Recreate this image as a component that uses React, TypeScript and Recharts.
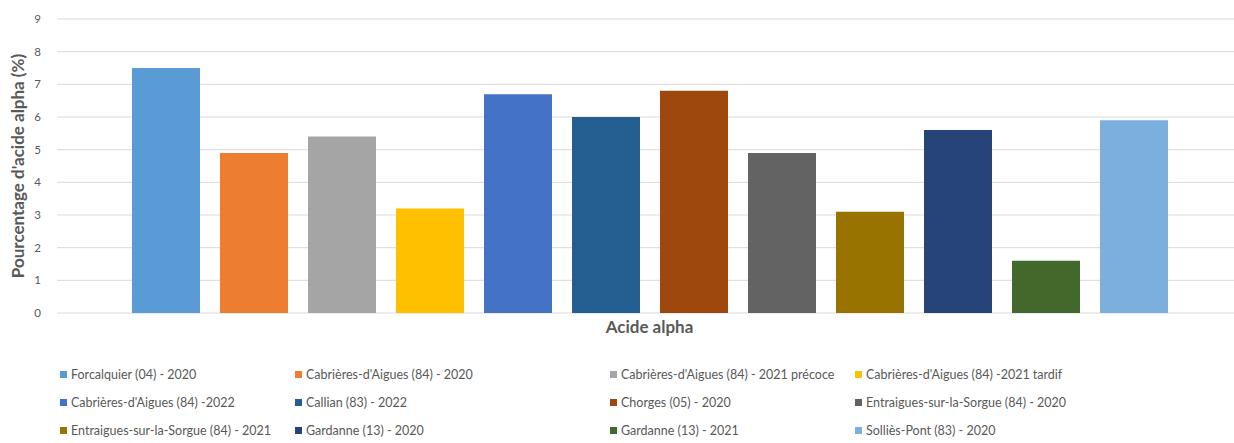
import React from 'react'
import { BarChart, Bar, XAxis, YAxis, CartesianGrid } from 'recharts'

const category = 'Acide alpha'
const seriesNames = [
  'Forcalquier (04) - 2020',
  "Cabrières-d'Aigues (84) - 2020",
  "Cabrières-d'Aigues (84) - 2021 précoce",
  "Cabrières-d'Aigues (84) -2021 tardif",
  "Cabrières-d'Aigues (84) -2022",
  'Callian (83) - 2022',
  'Chorges (05) - 2020',
  'Entraigues-sur-la-Sorgue (84) - 2020',
  'Entraigues-sur-la-Sorgue (84) - 2021',
  'Gardanne (13) - 2020',
  'Gardanne (13) - 2021',
  'Solliès-Pont (83) - 2020',
]
const values = [7.5, 4.9, 5.4, 3.2, 6.7, 6.0, 6.8, 4.9, 3.1, 5.6, 1.6, 5.9]
const colors = [
  '#5b9bd5', '#ed7d31', '#a5a5a5', '#ffc000', '#4472c4', '#255e91',
  '#9e480e', '#636363', '#997300', '#264478', '#43682b', '#7cafdd',
]
const yTicks = [0, 1, 2, 3, 4, 5, 6, 7, 8, 9]

const row: Record<string, any> = { name: category }
seriesNames.forEach((s, i) => { row[s] = values[i] })
const data = [row]

const font = 'Lato, "Noto Sans", sans-serif'
const legendCols = [60, 295, 610, 855]

const App = () => {
  return (
    <div style={{ position: 'absolute', left: 0, top: 0, width: 1234, height: 443, background: '#fff', fontFamily: font }}>
      <BarChart width={1234} height={443} data={data} barSize={68} barGap={20}
        margin={{ top: 19, right: 0, left: 0, bottom: 100 }}>
        <CartesianGrid vertical={false} stroke="#d9d9d9" />
        <XAxis dataKey="name" height={30} axisLine={false} tickLine={false} padding={{ left: 8, right: 0 }}
          tick={{ fill: '#595959', fontSize: 17, fontWeight: 700, fontFamily: font }} tickMargin={2} />
        <YAxis domain={[0, 9]} ticks={yTicks} width={57} axisLine={false} tickLine={false} tickMargin={10}
          tick={{ fill: '#595959', fontSize: 11.5, fontFamily: font }}
          label={{ value: "Pourcentage d'acide alpha (%)", angle: -90, position: 'insideLeft', offset: 18,
            style: { textAnchor: 'middle', fill: '#595959', fontSize: 17, fontWeight: 700, fontFamily: font } }} />
        {seriesNames.map((s, i) => (
          <Bar key={s} dataKey={s} fill={colors[i]} isAnimationActive={false} />
        ))}
      </BarChart>
      {seriesNames.map((s, i) => (
        <div key={s} style={{ position: 'absolute', left: legendCols[i % 4], top: 367 + Math.floor(i / 4) * 28,
          display: 'flex', alignItems: 'center', fontSize: 12.5, color: '#595959', whiteSpace: 'nowrap' }}>
          <span style={{ width: 7, height: 7, background: colors[i], marginRight: 4, display: 'inline-block' }} />
          {s}
        </div>
      ))}
    </div>
  )
}

export default App
